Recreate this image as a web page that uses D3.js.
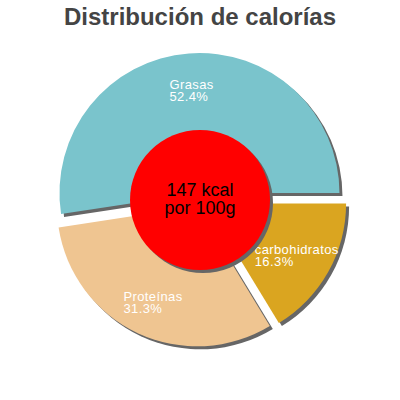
<!DOCTYPE html>
<html>
<head>
<meta charset="utf-8">
<script src="https://cdn.jsdelivr.net/npm/d3@7"></script>
<style>
  body { margin: 0; background: #fff; }
</style>
</head>
<body>
<script>
var w = 400;
var h = 400;

var categories = ["Grasas", "carbohidratos", "Proteínas"];
var percents = [52.4, 16.3, 31.3];
var colors = ["#7ac4cc", "#daa520", "#efc591"];
var centerLines = ["147 kcal", "por 100g"];

var cx = 200, cy = 200;
var radius = 140;
var inner = 70;
var explode = 7;
var shadowOff = 3;

var svg = d3.select("body")
            .append("svg")
            .attr("width", w)
            .attr("height", h);

svg.append("text")
    .text("Distribución de calorías")
    .attr("x", w / 2)
    .attr("y", 25)
    .attr("font-family", "Liberation Sans, Arial")
    .attr("font-weight", "bold")
    .attr("font-size", "24px")
    .attr("fill", "#444")
    .attr("text-anchor", "middle");

// first slice ends at 3 o'clock
var start = Math.PI / 2 - 2 * Math.PI * percents[0] / d3.sum(percents);
var pie = d3.pie()
    .sort(null)
    .value(function(d){ return d; })
    .startAngle(start)
    .endAngle(start + 2 * Math.PI);
var arcs = pie(percents);

var arc = d3.arc().innerRadius(0).outerRadius(radius);

function shift(d){
    var a = (d.startAngle + d.endAngle) / 2;
    return [cx + explode * Math.sin(a), cy - explode * Math.cos(a)];
}

var g = svg.append("g");

g.selectAll("path.shadow")
    .data(arcs)
    .enter()
    .append("path")
    .attr("class", "shadow")
    .attr("d", arc)
    .attr("transform", function(d){
        var p = shift(d);
        return "translate(" + (p[0] + shadowOff) + "," + (p[1] + shadowOff) + ")";
    })
    .attr("fill", "#666");

g.selectAll("path.slice")
    .data(arcs)
    .enter()
    .append("path")
    .attr("class", "slice")
    .attr("d", arc)
    .attr("transform", function(d){
        var p = shift(d);
        return "translate(" + p[0] + "," + p[1] + ")";
    })
    .attr("fill", function(d, i){ return colors[i]; });

var labelR = 104;
var labels = svg.selectAll("text.label")
    .data(arcs)
    .enter()
    .append("text")
    .attr("class", "label")
    .attr("font-family", "Liberation Sans, Arial")
    .attr("font-size", "13px")
    .attr("letter-spacing", "0.4px")
    .attr("fill", "#fff");

labels.each(function(d, i){
    var t = d3.select(this);
    t.append("tspan").attr("x", 0).attr("y", 0).text(categories[i]);
    t.append("tspan").attr("x", 0).attr("dy", 12).text(percents[i] + "%");
    var a = (d.startAngle + d.endAngle) / 2;
    var p = shift(d);
    var bw = this.getBBox().width;
    var x = p[0] + labelR * Math.sin(a) - bw / 2;
    var y = p[1] - labelR * Math.cos(a);
    t.attr("transform", "translate(" + x + "," + y + ")");
});

svg.append("circle")
    .attr("cx", cx + shadowOff)
    .attr("cy", cy + shadowOff)
    .attr("r", inner)
    .attr("fill", "#666");

svg.append("circle")
    .attr("cx", cx)
    .attr("cy", cy)
    .attr("r", inner)
    .attr("fill", "#ff0000");

svg.selectAll("text.center")
    .data(centerLines)
    .enter()
    .append("text")
    .attr("class", "center")
    .text(function(d){ return d; })
    .attr("x", cx)
    .attr("y", function(d, i){ return 196 + i * 18; })
    .attr("font-family", "Liberation Sans, Arial")
    .attr("font-size", "18px")
    .attr("fill", "#000")
    .attr("text-anchor", "middle");
</script>
</body>
</html>
